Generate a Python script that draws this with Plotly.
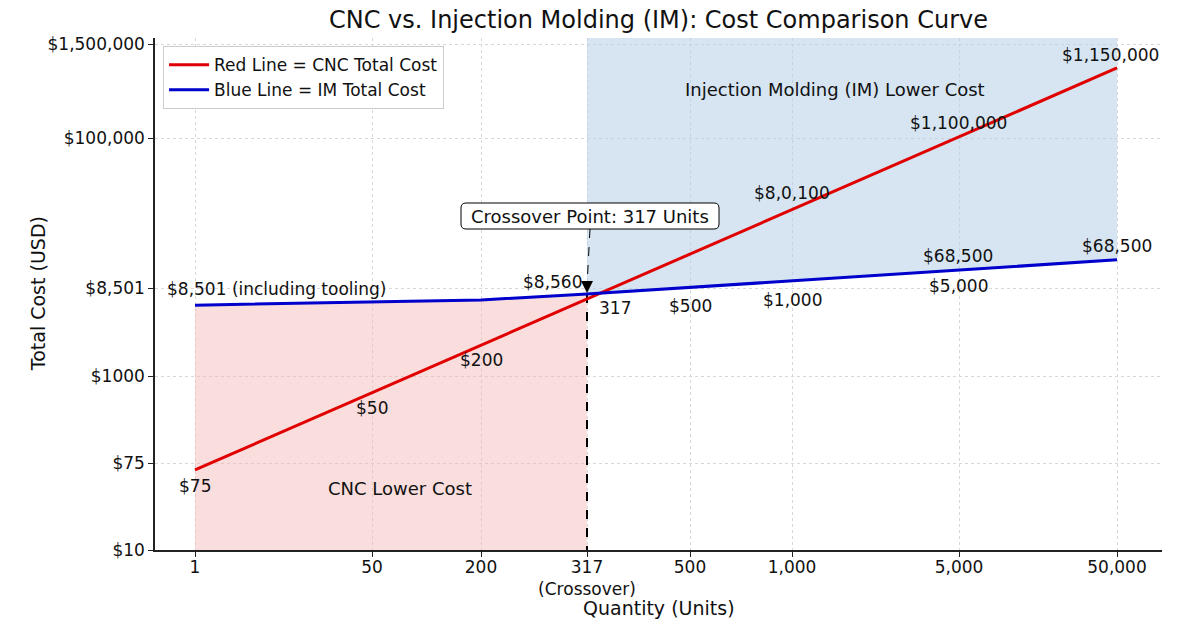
import numpy as np
import plotly.graph_objects as go

# ---------------- data ----------------
x_tick_qty = [1, 50, 200, 317, 500, 1000, 5000, 50000]
x_tick_text = ["1", "50", "200", "317<br>(Crossover)", "500", "1,000", "5,000", "50,000"]
y_tick_cost = [10, 75, 1000, 8501, 100000, 1500000]
y_tick_text = ["$10", "$75", "$1000", "$8,501", "$100,000", "$1,500,000"]

cnc_qty = [1, 50000]
cnc_cost = [64, 752000]
im_qty = [1, 200, 317, 50000]
im_cost = [5600, 6350, 7340, 13500]
crossover_qty = 317
crossover_cost = 7340

# ---------------- custom (non-uniform) axis scales ----------------
X_POS = [195, 372, 481, 587, 690, 792, 959, 1117]
Y_POS = [0, 87, 174, 262, 412, 506]
X_RANGE = [155, 1162]
Y_RANGE = [0, 512]


def sx(q):
    return np.interp(np.log10(np.asarray(q, dtype=float)), np.log10(x_tick_qty), X_POS)


def sy(c):
    return np.interp(np.log10(np.asarray(c, dtype=float)), np.log10(y_tick_cost), Y_POS)


FONT = "DejaVu Sans"
RED = "#e00000"
BLUE = "#0000cc"
TXT = "#111111"

fig = go.Figure()

# CNC lower-cost region (below IM line, left of crossover)
pink_q = [q for q in im_qty if q <= crossover_qty]
pink_c = [c for q, c in zip(im_qty, im_cost) if q <= crossover_qty]
fig.add_trace(go.Scatter(x=sx(pink_q), y=sy(pink_c), mode="lines", line=dict(width=0),
                         fill="tozeroy", fillcolor="rgba(245,180,180,0.45)",
                         showlegend=False, hoverinfo="skip"))

# IM lower-cost region (above IM line, right of crossover)
blue_q = [q for q in im_qty if q >= crossover_qty]
blue_c = [c for q, c in zip(im_qty, im_cost) if q >= crossover_qty]
bx = list(sx(blue_q)) + [sx(blue_q[-1]), sx(blue_q[0])]
by = list(sy(blue_c)) + [Y_RANGE[1], Y_RANGE[1]]
fig.add_trace(go.Scatter(x=bx, y=by, mode="lines", line=dict(width=0),
                         fill="toself", fillcolor="rgba(173,203,227,0.5)",
                         showlegend=False, hoverinfo="skip"))

# Crossover vertical dashed line
fig.add_trace(go.Scatter(x=[sx(crossover_qty)] * 2, y=[sy(crossover_cost), 0], mode="lines",
                         line=dict(color="black", width=2, dash="dash"),
                         showlegend=False, hoverinfo="skip"))

# Lines
fig.add_trace(go.Scatter(x=sx(cnc_qty), y=sy(cnc_cost), mode="lines",
                         line=dict(color=RED, width=3), name="Red Line = CNC Total Cost"))
fig.add_trace(go.Scatter(x=sx(im_qty), y=sy(im_cost), mode="lines",
                         line=dict(color=BLUE, width=3), name="Blue Line = IM Total Cost"))

# ---------------- annotations ----------------
labels = [
    ("$8,501 (including tooling)", 165, 261, "left"),
    ("$75", 195, 64, "center"),
    ("$50", 372, 142, "center"),
    ("$200", 481, 190, "center"),
    ("$8,560", 584, 268, "right"),
    ("317", 597, 242, "left"),
    ("$500", 690, 244, "center"),
    ("$1,000", 792, 250, "center"),
    ("$8,0,100", 792, 357, "center"),
    ("$1,100,000", 958, 427, "center"),
    ("$1,150,000", 1110, 495, "center"),
    ("$68,500", 958, 294, "center"),
    ("$5,000", 958, 264, "center"),
    ("$68,500", 1117, 304, "center"),
]
for t, x, y, xa in labels:
    fig.add_annotation(x=x, y=y, text=t, showarrow=False, xanchor=xa, yanchor="middle",
                       font=dict(family=FONT, size=17, color=TXT))

fig.add_annotation(x=835, y=461, text="Injection Molding (IM) Lower Cost", showarrow=False,
                   font=dict(family=FONT, size=18, color=TXT))
fig.add_annotation(x=400, y=62, text="CNC Lower Cost", showarrow=False,
                   font=dict(family=FONT, size=18, color=TXT))

# crossover callout box (rounded)
x0, x1, y0, y1, r = 461, 719, 321, 347, 5
rounded = (f"M {x0 + r},{y0} L {x1 - r},{y0} Q {x1},{y0} {x1},{y0 + r} "
           f"L {x1},{y1 - r} Q {x1},{y1} {x1 - r},{y1} L {x0 + r},{y1} "
           f"Q {x0},{y1} {x0},{y1 - r} L {x0},{y0 + r} Q {x0},{y0} {x0 + r},{y0} Z")
fig.add_shape(type="path", path=rounded, fillcolor="white", line=dict(color="black", width=1))
fig.add_annotation(x=590, y=334, text="Crossover Point: 317 Units", showarrow=False,
                   font=dict(family=FONT, size=18, color=TXT))
fig.add_shape(type="line", x0=590, y0=321, x1=sx(crossover_qty), y1=sy(crossover_cost) + 8,
              line=dict(color="black", width=1, dash="dash"))
fig.add_annotation(x=sx(crossover_qty), y=sy(crossover_cost) + 1, ax=0, ay=-12, text="",
                   showarrow=True, arrowhead=2, arrowsize=2, arrowwidth=1.2, arrowcolor="black")

# axis titles
fig.add_annotation(x=0.5, y=-0.113, xref="paper", yref="paper", text="Quantity (Units)",
                   showarrow=False, yanchor="middle", font=dict(family=FONT, size=19, color=TXT))
fig.add_annotation(x=-0.116, y=0.5, xref="paper", yref="paper", text="Total Cost (USD)",
                   showarrow=False, textangle=-90, xanchor="center",
                   font=dict(family=FONT, size=19, color=TXT))

fig.update_layout(
    width=1200, height=630,
    margin=dict(l=155, r=38, t=38, b=80),
    paper_bgcolor="white", plot_bgcolor="white",
    title=dict(text="CNC vs. Injection Molding (IM): Cost Comparison Curve",
               x=0.5, xref="paper", y=1 - 20 / 630, yanchor="middle",
               font=dict(family=FONT, size=24, color=TXT)),
    legend=dict(x=0.008, y=0.984, xanchor="left", yanchor="top", itemwidth=40,
                bgcolor="rgba(255,255,255,0.9)", bordercolor="#cccccc", borderwidth=1,
                font=dict(family=FONT, size=17, color=TXT)),
    font=dict(family=FONT),
)
axis_common = dict(showline=True, linecolor="#222", linewidth=1.5,
                   ticks="outside", ticklen=5, tickcolor="#222",
                   showgrid=True, gridcolor="#d8d8d8", griddash="3px,3px", gridwidth=1,
                   zeroline=False, tickfont=dict(family=FONT, size=17, color=TXT))
fig.update_xaxes(range=X_RANGE, tickvals=X_POS, ticktext=x_tick_text,
                 ticklabelstandoff=-4, **axis_common)
fig.update_yaxes(range=Y_RANGE, tickvals=Y_POS, ticktext=y_tick_text, **axis_common)

fig.write_html("out.html")
